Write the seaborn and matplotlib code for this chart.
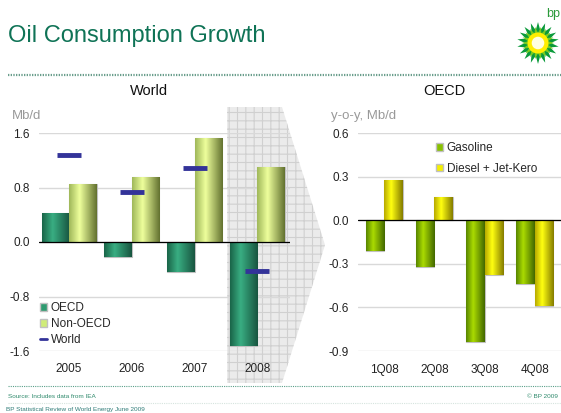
import numpy as np
import pandas as pd
import matplotlib
matplotlib.use("Agg")
import matplotlib.pyplot as plt
import seaborn as sns
from matplotlib.colors import LinearSegmentedColormap
from matplotlib.patches import Polygon, Patch, Circle
from matplotlib.lines import Line2D

# world chart (Mb/d)
years = ["2005", "2006", "2007", "2008"]
oecd = [0.42, -0.22, -0.44, -1.53]
non_oecd = [0.85, 0.96, 1.53, 1.10]
world = [1.28, 0.73, 1.09, -0.42]

# OECD chart (y-o-y, Mb/d)
quarters = ["1Q08", "2Q08", "3Q08", "4Q08"]
gasoline = [-0.21, -0.32, -0.84, -0.44]
diesel = [0.28, 0.16, -0.38, -0.59]

W, H = 561, 413
DPI = 100

sns.set_theme(style="white")
plt.rcParams['font.family'] = ['Liberation Sans', 'DejaVu Sans']
plt.rcParams['hatch.linewidth'] = 0.8


def fx(px):
    return px / W


def fy(py):
    return 1 - py / H


def make_cmap(dark1, light, dark2):
    return LinearSegmentedColormap.from_list("g", [(0, dark1), (0.38, light), (1, dark2)])


# fake cylinder shading, clipped to each bar
def shade_bars(ax, container, cmap):
    grad = np.linspace(0, 1, 64).reshape(1, -1)
    for p in container.patches:
        x0, y0 = p.get_x(), p.get_y()
        w, h = p.get_width(), p.get_height()
        im = ax.imshow(grad, extent=[x0, x0 + w, y0, y0 + h], aspect='auto', cmap=cmap,
                       zorder=p.get_zorder() + 0.1, interpolation='bilinear')
        im.set_clip_path(p)


def style_axes(ax, ticks, ylim):
    ax.set_facecolor('none')
    for s in ax.spines.values():
        s.set_visible(False)
    ax.set_ylim(*ylim)
    ax.set_yticks(ticks)
    ax.set_yticklabels(["%.1f" % t for t in ticks])
    ax.yaxis.grid(True, color='#d9d9d9', linewidth=1.0)
    ax.set_axisbelow(True)
    ax.axhline(0, color='black', linewidth=0.9, zorder=5)
    ax.tick_params(axis='y', length=0, pad=6.5, labelsize=8.5, labelcolor='#222222')
    ax.tick_params(axis='x', length=0, pad=9, labelsize=8.5, labelcolor='#222222')
    ax.set_xlabel("")
    ax.set_ylabel("")


fig = plt.figure(figsize=(W / DPI, H / DPI), dpi=DPI)
fig.patch.set_facecolor('white')

# grey chevron behind 2008
chev = Polygon([(fx(227), fy(107)), (fx(282), fy(107)), (fx(325), fy(245)),
                (fx(282), fy(383)), (fx(227), fy(383))], closed=True,
               transform=fig.transFigure, facecolor='#ebebeb', edgecolor='#d0d0d0',
               linewidth=0, hatch='++', zorder=-1)
fig.add_artist(chev)

# ---- World ----
ax1 = fig.add_axes([fx(39), fy(351), fx(251), (351 - 133) / H])
df1 = pd.DataFrame({"year": years * 2, "value": oecd + non_oecd,
                    "series": ["OECD"] * 4 + ["Non-OECD"] * 4})
sns.barplot(data=df1, x="year", y="value", hue="series", palette=["#2f9a70", "#d8f080"],
            width=0.88, edgecolor='#c0c0c0', linewidth=0.8, legend=False, ax=ax1, zorder=3)
style_axes(ax1, [-1.6, -0.8, 0.0, 0.8, 1.6], (-1.6, 1.6))
shade_bars(ax1, ax1.containers[0], make_cmap('#1a6549', '#39ae82', '#185540'))
shade_bars(ax1, ax1.containers[1], make_cmap('#a0b85a', '#eeff9c', '#637230'))
ax1.plot(range(len(years)), world, ls='none', marker='_', ms=17, mew=3.5,
         color='#333399', zorder=6)
ax1.set_xlim(-0.48, 3.52)
ax1.set_ylim(-1.6, 1.6)

h1 = [Patch(facecolor='#2f9a70', edgecolor='#c0c0c0', label='OECD'),
      Patch(facecolor='#d0ec78', edgecolor='#c0c0c0', label='Non-OECD'),
      Line2D([0], [0], color='#333399', lw=2, label='World')]
ax1.legend(handles=h1, loc='upper left', bbox_to_anchor=(fx(40), fy(302)),
           bbox_transform=fig.transFigure, frameon=False, fontsize=8.5,
           handlelength=0.6, handleheight=0.6, handletextpad=0.3,
           labelspacing=0.35, borderpad=0, borderaxespad=0)

# ---- OECD ----
ax2 = fig.add_axes([fx(358), fy(351), fx(203), (351 - 133) / H])
df2 = pd.DataFrame({"q": quarters * 2, "value": gasoline + diesel,
                    "series": ["Gasoline"] * 4 + ["Diesel + Jet-Kero"] * 4})
sns.barplot(data=df2, x="q", y="value", hue="series", palette=["#88c000", "#f4f000"],
            width=0.74, edgecolor='#c0c0c0', linewidth=0.8, legend=False, ax=ax2, zorder=3)
style_axes(ax2, [-0.9, -0.6, -0.3, 0.0, 0.3, 0.6], (-0.9, 0.6))
shade_bars(ax2, ax2.containers[0], make_cmap('#588500', '#aadb00', '#436800'))
shade_bars(ax2, ax2.containers[1], make_cmap('#b8aa00', '#ffff10', '#857c00'))
ax2.set_xlim(-0.52, 3.52)
ax2.set_ylim(-0.9, 0.6)

h2 = [Patch(facecolor='#88c000', edgecolor='#c0c0c0', label='Gasoline'),
      Patch(facecolor='#f4f000', edgecolor='#c0c0c0', label='Diesel + Jet-Kero')]
ax2.legend(handles=h2, loc='upper left', bbox_to_anchor=(fx(436), fy(142)),
           bbox_transform=fig.transFigure, frameon=False, fontsize=8.5,
           handlelength=0.6, handleheight=0.6, handletextpad=0.3,
           labelspacing=0.75, borderpad=0, borderaxespad=0)

# ---- texts ----
fig.text(fx(8), fy(42), "Oil Consumption Growth", fontsize=17, color='#0f7356', va='baseline')
fig.text(fx(149), fy(91), "World", fontsize=10.5, color='#111111', ha='center', va='center')
fig.text(fx(444), fy(91), "OECD", fontsize=10.5, color='#111111', ha='center', va='center')
fig.text(fx(12), fy(116), "Mb/d", fontsize=9.5, color='#999999', va='center')
fig.text(fx(331), fy(116), "y-o-y, Mb/d", fontsize=9.5, color='#999999', va='center')

# dotted rules
fig.add_artist(Line2D([fx(8), 1], [fy(75), fy(75)], transform=fig.transFigure,
                      color='#6a9e8c', lw=1.6, ls=(0, (0.6, 0.6))))
fig.add_artist(Line2D([fx(8), 1], [fy(386), fy(386)], transform=fig.transFigure,
                      color='#5aa08a', lw=0.8, ls=(0, (1, 1))))
fig.add_artist(Line2D([fx(8), 1], [fy(403), fy(403)], transform=fig.transFigure,
                      color='#d6e4de', lw=0.8, ls=(0, (1, 1))))

fig.text(fx(8), fy(396), "Source: Includes data from IEA", fontsize=4.6, color='#2f8a6c', va='center')
fig.text(fx(558), fy(396), "© BP 2009", fontsize=4.6, color='#2f8a6c', va='center', ha='right')
fig.text(fx(6), fy(410), "BP Statistical Review of World Energy June 2009", fontsize=4.6,
         color='#2f7c78', va='center')

# ---- bp logo ----
axl = fig.add_axes([fx(516), fy(65), fx(44), 44 / H])
axl.set_xlim(-1.05, 1.05)
axl.set_ylim(-1.05, 1.05)
axl.set_aspect('equal')
axl.axis('off')
n = 18
ang = np.linspace(0, 2 * np.pi, 2 * n, endpoint=False) + np.pi / 2
for r_out, r_in, col, rot in [(1.0, 0.62, '#0a9a3a', 0), (0.78, 0.48, '#7acc1e', np.pi / n)]:
    r = np.where(np.arange(2 * n) % 2 == 0, r_out, r_in)
    a = ang + rot
    axl.add_patch(Polygon(np.column_stack([r * np.cos(a), r * np.sin(a)]), closed=True,
                          facecolor=col, edgecolor='none'))
axl.add_patch(Circle((0, 0), 0.5, facecolor='#ffee00', edgecolor='none'))
axl.add_patch(Circle((0, 0), 0.3, facecolor='#ffffe0', edgecolor='none'))
fig.text(fx(553), fy(14), "bp", fontsize=9, color='#2a9a3a', ha='center', va='center')

fig.savefig("out.png", dpi=DPI)
